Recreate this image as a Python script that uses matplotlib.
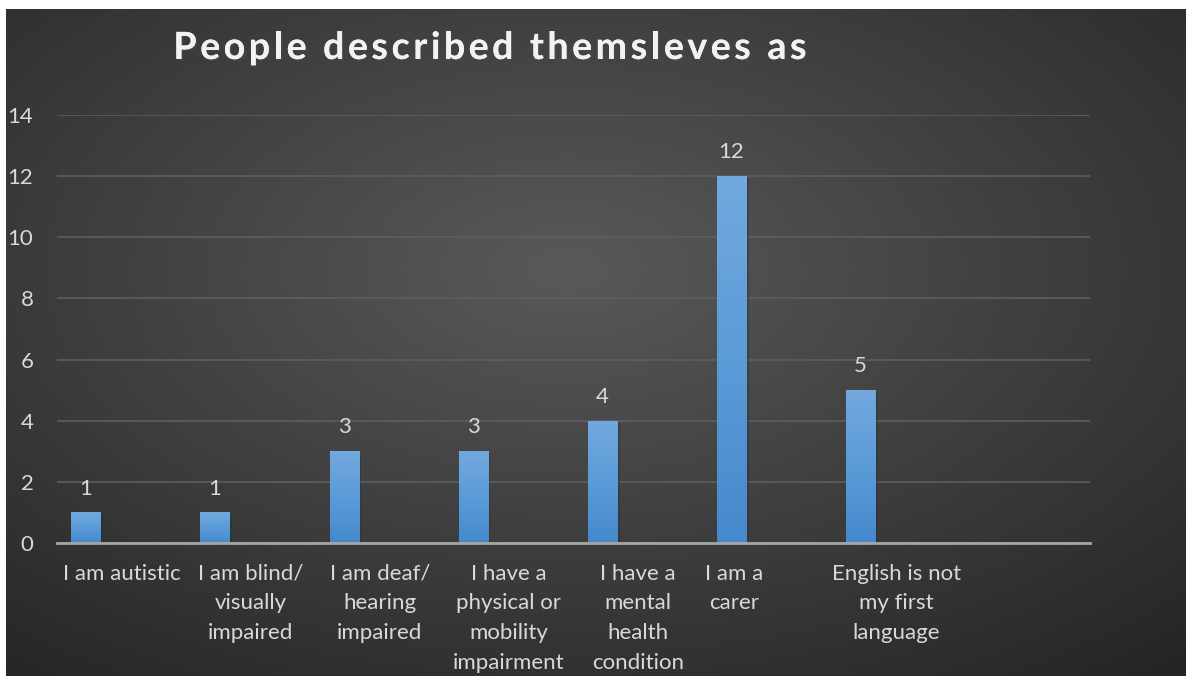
import matplotlib.pyplot as plt
import numpy as np
from matplotlib import patheffects
from matplotlib.colors import LinearSegmentedColormap
from matplotlib.transforms import ScaledTranslation

categories = ['I am autistic', 'I am blind/\nvisually\nimpaired', 'I am deaf/\nhearing\nimpaired',
              'I have a\nphysical or\nmobility\nimpairment', 'I have a\nmental\nhealth\ncondition',
              'I am a\ncarer', 'English is not\nmy first\nlanguage']
counts = [1, 1, 3, 3, 4, 12, 5]
yticks = [0, 2, 4, 6, 8, 10, 12, 14]
n_slots = 8
title = 'People described themsleves as'

plt.rcParams['font.family'] = ['Lato', 'DejaVu Sans']
label_col = '#d9d9d9'

fig = plt.figure(figsize=(11.86, 6.76), dpi=100)
fig.patch.set_facecolor('white')

# dark panel, lighter in the middle
bg = fig.add_axes([6/1186, 0, 1180/1186, 667/676])
bg.axis('off')
h, w = 667, 1180
yy, xx = np.mgrid[0:h, 0:w]
r = np.hypot((xx - 560) / w, (yy - 260) / h)
shade = np.clip(0.35 - 0.26 * r, 0.14, 1)
bg.imshow(np.dstack([shade, shade, shade]), aspect='auto', extent=[0, 1, 0, 1])
bg.set_xlim(0, 1)
bg.set_ylim(0, 1)

ax = fig.add_axes([57/1186, 133/676, 1033/1186, 428/676])
ax.patch.set_alpha(0)

x = np.arange(len(counts))
bars = ax.bar(x - 0.277, counts, width=0.225, color='#5b9bd5', zorder=3,
              path_effects=[patheffects.withSimplePatchShadow(offset=(2, -1), alpha=0.35)])

# vertical shading inside each bar
blue = LinearSegmentedColormap.from_list('barblue', ['#4589cc', '#5b9bd8', '#72a9de'])
grad = np.linspace(0, 1, 256).reshape(-1, 1)
for b in bars:
    x0, y0 = b.get_x(), b.get_y()
    im = ax.imshow(grad, cmap=blue, origin='lower', aspect='auto', zorder=3.5,
                   extent=[x0, x0 + b.get_width(), y0, y0 + b.get_height()])
    im.set_clip_path(b)

for xi, v in zip(x - 0.277, counts):
    ax.annotate(str(v), (xi, v), xytext=(0, 10), textcoords='offset points',
                ha='center', va='bottom', color=label_col, fontsize=16)

ax.set_xlim(-0.5, n_slots - 0.5)
ax.set_ylim(0, 14)
ax.set_yticks(yticks)
ax.yaxis.grid(True, color='#5e5e5e', lw=1.2)
ax.set_axisbelow(True)
for s in ['top', 'right', 'left']:
    ax.spines[s].set_visible(False)
ax.spines['bottom'].set_color('#a6a6a6')
ax.spines['bottom'].set_linewidth(2)
ax.spines['bottom'].set_zorder(5)

ax.set_xticks(x)
ax.set_xticklabels(categories, linespacing=1.6)
ax.tick_params(axis='x', length=0, pad=15, labelsize=16, labelcolor=label_col)
ax.tick_params(axis='y', length=0, pad=17, labelsize=16, labelcolor=label_col)
lbl = ax.get_xticklabels()[5]
lbl.set_transform(lbl.get_transform() + ScaledTranslation(-0.33, 0, fig.dpi_scale_trans))

# spaced-out title, one character at a time
renderer = fig.canvas.get_renderer()
shadow = [patheffects.withSimplePatchShadow(offset=(1.5, -1.5), alpha=0.5), patheffects.Normal()]
tracking = 3.6
chars = []
for ch in title:
    t = fig.text(0, 1 - 48/676, ch, ha='left', va='center', fontsize=27, fontweight='bold',
                 color='#f2f2f2', path_effects=shadow)
    chars.append(t)
widths = []
for t in chars:
    if t.get_text() == ' ':
        t.set_text('i')
        widths.append(t.get_window_extent(renderer).width)
        t.set_text(' ')
    else:
        widths.append(t.get_window_extent(renderer).width)
total = sum(widths) + tracking * (len(chars) - 1)
pos = 490 - total / 2
for t, wd in zip(chars, widths):
    t.set_x(pos / 1186)
    pos += wd + tracking

fig.savefig('out.png', dpi=100)
